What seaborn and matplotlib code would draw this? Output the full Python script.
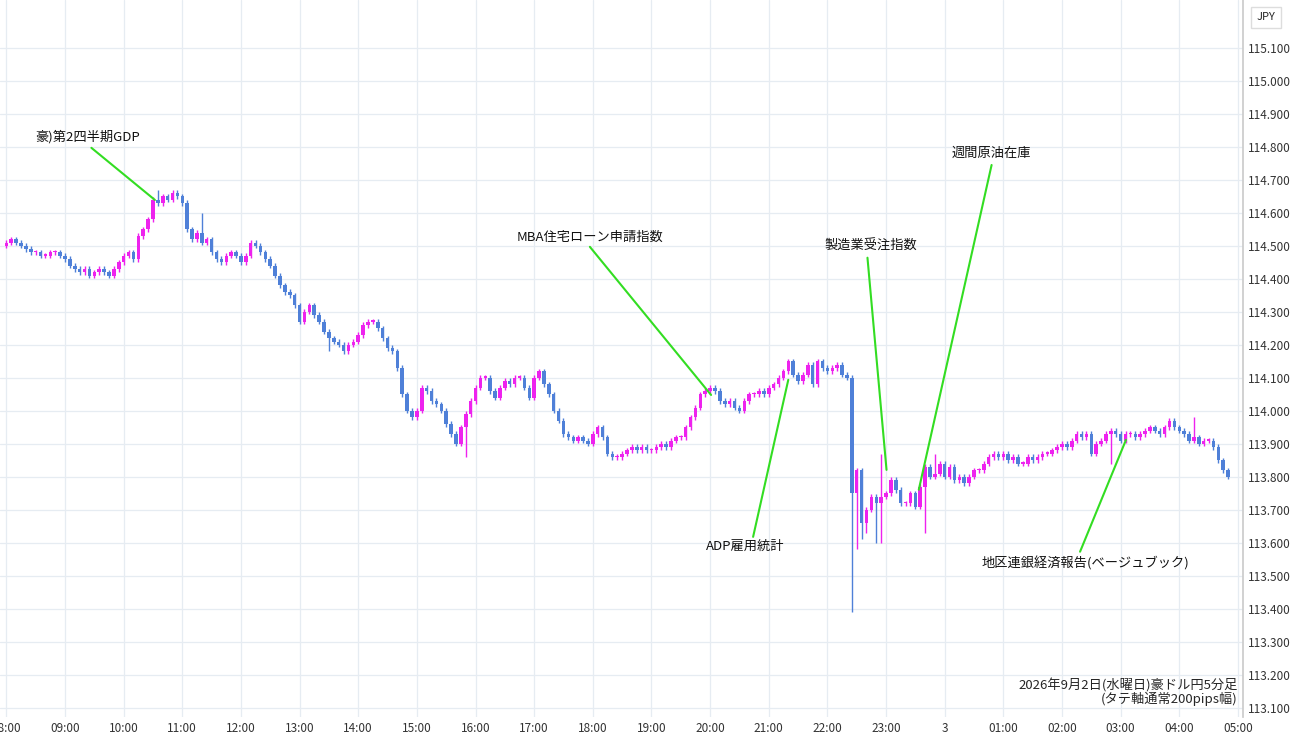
import numpy as np
import pandas as pd
import seaborn as sns
import matplotlib.pyplot as plt

# 5-minute closes, AUD/JPY, one row per hour starting 08:00
closes = [
    114.51, 114.52, 114.51, 114.50, 114.49, 114.48, 114.48, 114.47, 114.47, 114.48, 114.48, 114.47,
    114.46, 114.44, 114.43, 114.42, 114.43, 114.41, 114.42, 114.43, 114.42, 114.41, 114.43, 114.45,
    114.47, 114.48, 114.46, 114.53, 114.55, 114.58, 114.64, 114.63, 114.65, 114.64, 114.66, 114.65,
    114.63, 114.55, 114.52, 114.54, 114.51, 114.52, 114.48, 114.46, 114.45, 114.47, 114.48, 114.47,
    114.45, 114.47, 114.51, 114.50, 114.48, 114.46, 114.44, 114.41, 114.38, 114.36, 114.35, 114.32,
    114.27, 114.30, 114.32, 114.29, 114.27, 114.24, 114.22, 114.21, 114.20, 114.18, 114.20, 114.21,
    114.23, 114.26, 114.27, 114.27, 114.25, 114.22, 114.19, 114.18, 114.13, 114.05, 114.00, 113.98,
    114.00, 114.07, 114.06, 114.03, 114.02, 114.00, 113.96, 113.93, 113.90, 113.95, 113.99, 114.03,
    114.07, 114.10, 114.10, 114.06, 114.04, 114.07, 114.09, 114.08, 114.10, 114.10, 114.07, 114.04,
    114.10, 114.12, 114.08, 114.05, 114.00, 113.97, 113.93, 113.92, 113.91, 113.92, 113.91, 113.90,
    113.93, 113.95, 113.92, 113.87, 113.86, 113.86, 113.87, 113.88, 113.89, 113.88, 113.89, 113.88,
    113.88, 113.89, 113.90, 113.89, 113.91, 113.92, 113.92, 113.95, 113.98, 114.01, 114.05, 114.06,
    114.07, 114.06, 114.03, 114.02, 114.03, 114.01, 114.00, 114.03, 114.05, 114.05, 114.06, 114.05,
    114.07, 114.08, 114.10, 114.12, 114.15, 114.11, 114.09, 114.11, 114.14, 114.08, 114.15, 114.13,
    114.12, 114.13, 114.14, 114.11, 114.10, 113.75, 113.82, 113.66, 113.70, 113.74, 113.72, 113.74,
    113.75, 113.79, 113.76, 113.72, 113.72, 113.75, 113.71, 113.77, 113.83, 113.80, 113.81, 113.84,
    113.80, 113.83, 113.79, 113.80, 113.78, 113.80, 113.82, 113.82, 113.84, 113.86, 113.87, 113.86,
    113.87, 113.85, 113.86, 113.84, 113.84, 113.86, 113.85, 113.86, 113.87, 113.87, 113.88, 113.89,
    113.90, 113.89, 113.91, 113.93, 113.92, 113.93, 113.87, 113.90, 113.91, 113.93, 113.94, 113.93,
    113.91, 113.93, 113.93, 113.92, 113.93, 113.94, 113.95, 113.94, 113.93, 113.95, 113.97, 113.95,
    113.94, 113.93, 113.91, 113.92, 113.90, 113.91, 113.91, 113.89, 113.85, 113.82, 113.80,
]
first_open = 114.50
# notable wick extremes (candle index -> price)
spike_high = {31: 114.67, 40: 114.60, 179: 113.87, 190: 113.87, 243: 113.98}
spike_low = {66: 114.18, 94: 113.86, 173: 113.39, 174: 113.58, 175: 113.61, 176: 113.63,
             178: 113.60, 179: 113.60, 188: 113.63, 226: 113.84}

hour_labels = ["08:00", "09:00", "10:00", "11:00", "12:00", "13:00", "14:00", "15:00",
               "16:00", "17:00", "18:00", "19:00", "20:00", "21:00", "22:00", "23:00",
               "3", "01:00", "02:00", "03:00", "04:00", "05:00"]

events = ["豪)第2四半期GDP", "MBA住宅ローン申請指数", "製造業受注指数",
          "週間原油在庫", "ADP雇用統計", "地区連銀経済報告(ベージュブック)"]

df = pd.DataFrame({"close": closes})
df["open"] = [first_open] + closes[:-1]
df["high"] = df[["open", "close"]].max(axis=1) + 0.008
df["low"] = df[["open", "close"]].min(axis=1) - 0.008
for i, v in spike_high.items():
    if i < len(df):
        df.loc[i, "high"] = v
for i, v in spike_low.items():
    if i < len(df):
        df.loc[i, "low"] = v

sns.set_theme(style="whitegrid")
plt.rcParams["font.family"] = ["Noto Sans CJK JP", "DejaVu Sans"]

fig = plt.figure(figsize=(13, 7.45), dpi=100)
ax = fig.add_axes([0.0, 0.038, 0.956, 0.962])

up = df["close"] >= df["open"]
col = np.where(up, "#ee22ee", "#4f80d8")
x = df.index.values
ax.vlines(x, df["low"], df["high"], color=col, lw=1)
ax.bar(x, (df["close"] - df["open"]).abs().clip(lower=0.004),
       bottom=df[["open", "close"]].min(axis=1), width=0.72, color=col, linewidth=0)

ax.set_xlim(-1.3, 253)
ax.set_ylim(113.073, 115.245)
ax.set_xticks(np.arange(0, 12 * len(hour_labels), 12))
ax.set_xticklabels(hour_labels, fontsize=8.5, color="#333333")
yt = np.round(np.arange(113.1, 115.15, 0.1), 1)
ax.set_yticks(yt)
ax.set_yticklabels([f"{v:.3f}" for v in yt], fontsize=8.5, color="#333333")
ax.yaxis.tick_right()
ax.tick_params(axis="both", length=0, pad=4)
ax.grid(True, color="#e6ecf2", lw=0.9)
for s in ["top", "left", "bottom"]:
    ax.spines[s].set_visible(False)
ax.spines["right"].set_color("#cccccc")

green = "#33dd22"
# (text x, text y, line start, line end) in candle index / price units
ann = [
    (16.6, 114.83, (17.4, 114.797), (30.4, 114.639)),
    (119.4, 114.527, (119.4, 114.497), (144.2, 114.048)),
    (176.8, 114.50, (176.2, 114.464), (180.1, 113.821)),
    (201.6, 114.779, (201.6, 114.745), (186.7, 113.761)),
    (151.2, 113.588, (152.8, 113.618), (160.0, 114.094)),
    (220.7, 113.536, (219.7, 113.573), (229.1, 113.912)),
]
for (tx, ty, p0, p1), label in zip(ann, events):
    ax.plot([p0[0], p1[0]], [p0[1], p1[1]], color=green, lw=1.5)
    ax.text(tx, ty, label, fontsize=9.5, ha="center", va="center", color="#111111")

ax.text(252, 113.145, "2026年9月2日(水曜日)豪ドル円5分足", fontsize=9.5, ha="right", va="bottom")
ax.text(252, 113.105, "(タテ軸通常200pips幅)", fontsize=9.5, ha="right", va="bottom")
fig.text(0.974, 0.977, "JPY", fontsize=8, ha="center", va="center",
         bbox=dict(boxstyle="square,pad=0.5", fc="white", ec="#dddddd"))

fig.savefig("out.png", dpi=100)
